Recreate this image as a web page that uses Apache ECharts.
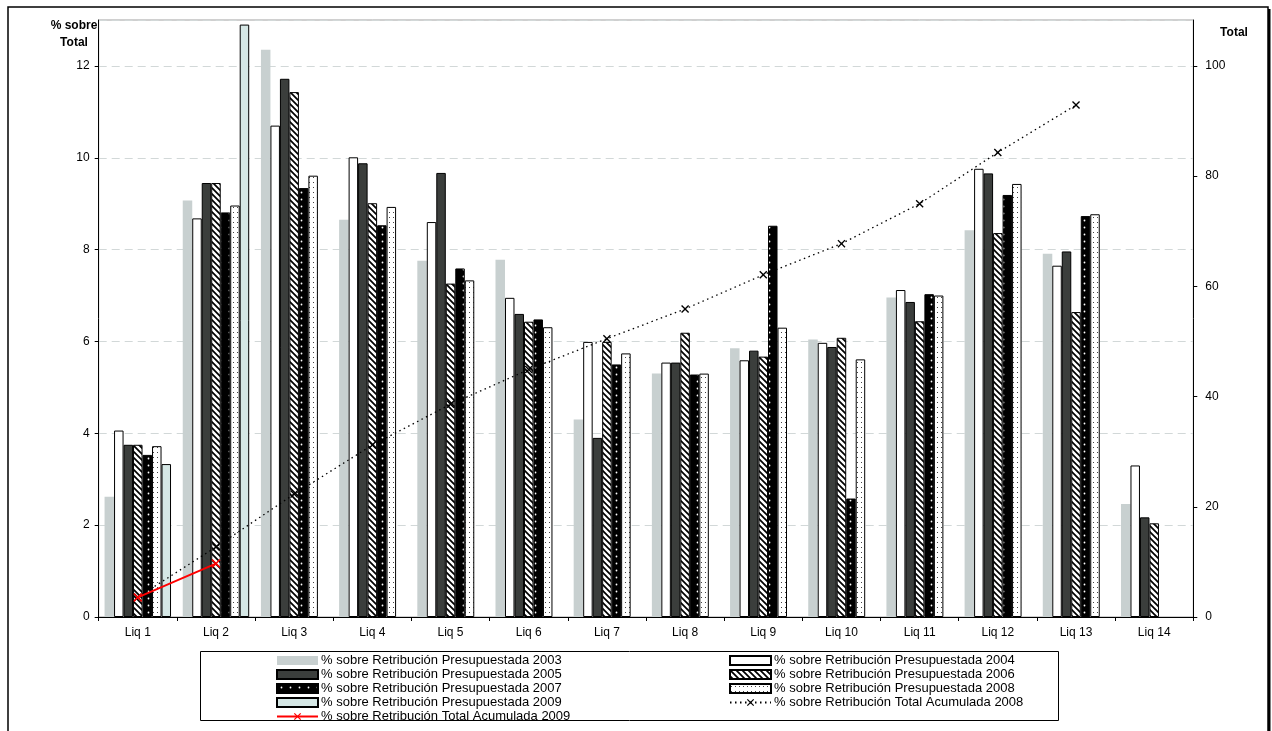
<!DOCTYPE html>
<html>
<head>
<meta charset="utf-8">
<script src="https://cdn.jsdelivr.net/npm/echarts@6/dist/echarts.min.js"></script>
<style>
html,body{margin:0;padding:0;background:#fff;}
#c{width:1272px;height:731px;}
</style>
</head>
<body>
<div id="c"></div>
<script>
// ---- data ----
var categories = ['Liq 1','Liq 2','Liq 3','Liq 4','Liq 5','Liq 6','Liq 7','Liq 8','Liq 9','Liq 10','Liq 11','Liq 12','Liq 13','Liq 14'];
var v2003 = [2.62, 9.07, 12.35, 8.65, 7.76, 7.78, 4.30, 5.30, 5.85, 6.04, 6.96, 8.42, 7.91, 2.46];
var v2004 = [4.06, 8.68, 10.70, 10.01, 8.60, 6.95, 5.99, 5.54, 5.59, 5.97, 7.12, 9.76, 7.65, 3.30];
var v2005 = [3.75, 9.45, 11.72, 9.88, 9.67, 6.60, 3.90, 5.54, 5.80, 5.88, 6.86, 9.66, 7.96, 2.17];
var v2006 = [3.75, 9.45, 11.43, 9.01, 7.26, 6.43, 5.99, 6.19, 5.67, 6.08, 6.44, 8.36, 6.64, 2.04];
var v2007 = [3.53, 8.81, 9.34, 8.53, 7.59, 6.48, 5.50, 5.28, 8.52, 2.58, 7.03, 9.19, 8.73, null];
var v2008 = [3.72, 8.96, 9.61, 8.93, 7.33, 6.31, 5.74, 5.30, 6.30, 5.61, 7.00, 9.43, 8.77, null];
var v2009 = [3.33, 12.9, null, null, null, null, null, null, null, null, null, null, null, null];
var cum2008 = [3.6, 12.7, 22.3, 31.2, 38.6, 44.9, 50.5, 55.9, 62.1, 67.75, 75.0, 84.3, 92.9, null];
var cum2009 = [3.55, 9.7, null, null, null, null, null, null, null, null, null, null, null, null];
var leftTicks = {min: 0, max: 13, interval: 2};
var rightTicks = {min: 0, max: 108.3333, interval: 20};

var names = {
  b2003: '% sobre Retribución Presupuestada 2003',
  b2004: '% sobre Retribución Presupuestada 2004',
  b2005: '% sobre Retribución Presupuestada 2005',
  b2006: '% sobre Retribución Presupuestada 2006',
  b2007: '% sobre Retribución Presupuestada 2007',
  b2008: '% sobre Retribución Presupuestada 2008',
  b2009: '% sobre Retribución Presupuestada 2009',
  c2008: '% sobre Retribución Total Acumulada 2008',
  c2009: '% sobre Retribución Total Acumulada 2009'
};

// ---- patterns ----
function mk(w, h, draw) {
  var c = document.createElement('canvas'); c.width = w; c.height = h;
  var g = c.getContext('2d'); draw(g, w, h); return c;
}
var hatch = mk(6, 6, function (g, w, h) {
  g.fillStyle = '#fff'; g.fillRect(0, 0, w, h);
  g.strokeStyle = '#000'; g.lineWidth = 1.7;
  g.beginPath();
  g.moveTo(-1, -1); g.lineTo(7, 7);
  g.moveTo(-1, 5); g.lineTo(1, 7);
  g.moveTo(5, -1); g.lineTo(7, 1);
  g.stroke();
});
var blackDots = mk(9, 7, function (g, w, h) {
  g.fillStyle = '#000'; g.fillRect(0, 0, w, h);
  g.fillStyle = '#fff'; g.beginPath(); g.arc(4.5, 3.5, 0.9, 0, Math.PI * 2); g.fill();
});
var whiteDots = mk(4, 5, function (g, w, h) {
  g.fillStyle = '#fff'; g.fillRect(0, 0, w, h);
  g.fillStyle = '#444'; g.fillRect(1, 2, 1, 1);
});

var xSym = 'path://M0,1.2 L1.2,0 L5,3.8 L8.8,0 L10,1.2 L6.2,5 L10,8.8 L8.8,10 L5,6.2 L1.2,10 L0,8.8 L3.8,5 Z';

function bar(name, data, color, border) {
  return {
    name: name, type: 'bar', data: data, yAxisIndex: 0,
    barGap: '0%', barCategoryGap: '15%',
    itemStyle: {color: color, borderColor: border ? '#000' : 'transparent', borderWidth: border ? 1 : 0},
    emphasis: {disabled: true}
  };
}

var chart = echarts.init(document.getElementById('c'), null, {renderer: 'canvas'});
var font = 'Liberation Sans, Arial, sans-serif';
var legendText = {fontSize: 13, color: '#000', lineHeight: 14, fontFamily: font, padding: [0, 0, 0, -2]};
var option = {
  animation: false,
  textStyle: {fontFamily: font},
  grid: {left: 98.7, right: 78.7, top: 20, bottom: 114, show: true, borderColor: '#a0a0a0', borderWidth: 1},
  xAxis: {
    type: 'category', data: categories,
    axisLine: {lineStyle: {color: '#000', width: 1}},
    axisTick: {show: true, length: 4, lineStyle: {color: '#000'}},
    axisLabel: {color: '#000', fontSize: 12, margin: 10, fontFamily: font}
  },
  yAxis: [{
    type: 'value', min: leftTicks.min, max: leftTicks.max, interval: leftTicks.interval,
    position: 'left',
    axisLine: {show: true, lineStyle: {color: '#000'}},
    axisTick: {show: true, length: 4, lineStyle: {color: '#000'}},
    axisLabel: {color: '#000', fontSize: 12, margin: 9, showMaxLabel: false, fontFamily: font},
    splitLine: {show: true, lineStyle: {color: '#d2d8d8', type: [8, 5], width: 1}}
  }, {
    type: 'value', min: rightTicks.min, max: rightTicks.max, interval: rightTicks.interval,
    position: 'right',
    axisLine: {show: true, lineStyle: {color: '#000'}},
    axisTick: {show: true, length: 4, lineStyle: {color: '#000'}},
    axisLabel: {color: '#000', fontSize: 12, margin: 12, showMaxLabel: false, fontFamily: font},
    splitLine: {show: false}
  }],
  legend: [{
    orient: 'vertical', left: 276, top: 653.5, itemWidth: 41, itemHeight: 9, itemGap: 0, padding: 0,
    textStyle: legendText, selectedMode: false,
    data: [
      {name: names.b2003, icon: 'rect'}, {name: names.b2005, icon: 'rect'},
      {name: names.b2007, icon: 'rect'}, {name: names.b2009, icon: 'rect'},
      {name: names.c2009}
    ]
  }, {
    orient: 'vertical', left: 729, top: 653.5, itemWidth: 41, itemHeight: 9, itemGap: 0, padding: 0,
    textStyle: legendText, selectedMode: false,
    data: [
      {name: names.b2004, icon: 'rect'}, {name: names.b2006, icon: 'rect'},
      {name: names.b2008, icon: 'rect'}, {name: names.c2008}
    ]
  }],
  graphic: [
    {type: 'rect', shape: {x: 8, y: 7, width: 1260, height: 740}, style: {fill: 'none', stroke: '#000', lineWidth: 1.5}, silent: true},
    {type: 'rect', shape: {x: 1268, y: 9, width: 2.5, height: 730}, style: {fill: '#000'}, silent: true},
    {type: 'rect', shape: {x: 200.5, y: 651.5, width: 858, height: 69}, style: {fill: 'none', stroke: '#000', lineWidth: 1}, silent: true},
    {type: 'text', style: {x: 74, y: 20, text: '% sobre', font: 'bold 12px ' + font, fill: '#000', align: 'center', verticalAlign: 'top'}, silent: true},
    {type: 'text', style: {x: 74, y: 37, text: 'Total', font: 'bold 12px ' + font, fill: '#000', align: 'center', verticalAlign: 'top'}, silent: true},
    {type: 'text', style: {x: 1234, y: 27, text: 'Total', font: 'bold 12px ' + font, fill: '#000', align: 'center', verticalAlign: 'top'}, silent: true}
  ],
  series: [
    bar(names.b2003, v2003, '#c8d0d0', false),
    bar(names.b2004, v2004, '#ffffff', true),
    bar(names.b2005, v2005, '#3b3e3c', true),
    bar(names.b2006, v2006, {image: hatch, repeat: 'repeat'}, true),
    bar(names.b2007, v2007, {image: blackDots, repeat: 'repeat'}, true),
    bar(names.b2008, v2008, {image: whiteDots, repeat: 'repeat'}, true),
    bar(names.b2009, v2009, '#d5e7e5', true),
    {
      name: names.c2008, type: 'line', data: cum2008, yAxisIndex: 1, z: 5,
      symbol: xSym, symbolSize: 8, showSymbol: true,
      lineStyle: {color: '#000', width: 1.3, type: [1.5, 3.5]},
      itemStyle: {color: '#000'},
      emphasis: {disabled: true}
    },
    {
      name: names.c2009, type: 'line', data: cum2009, yAxisIndex: 1, z: 6,
      symbol: xSym, symbolSize: 9, showSymbol: true,
      lineStyle: {color: '#ff0000', width: 2},
      itemStyle: {color: '#ff0000'},
      emphasis: {disabled: true}
    }
  ]
};
chart.setOption(option);
</script>
</body>
</html>
